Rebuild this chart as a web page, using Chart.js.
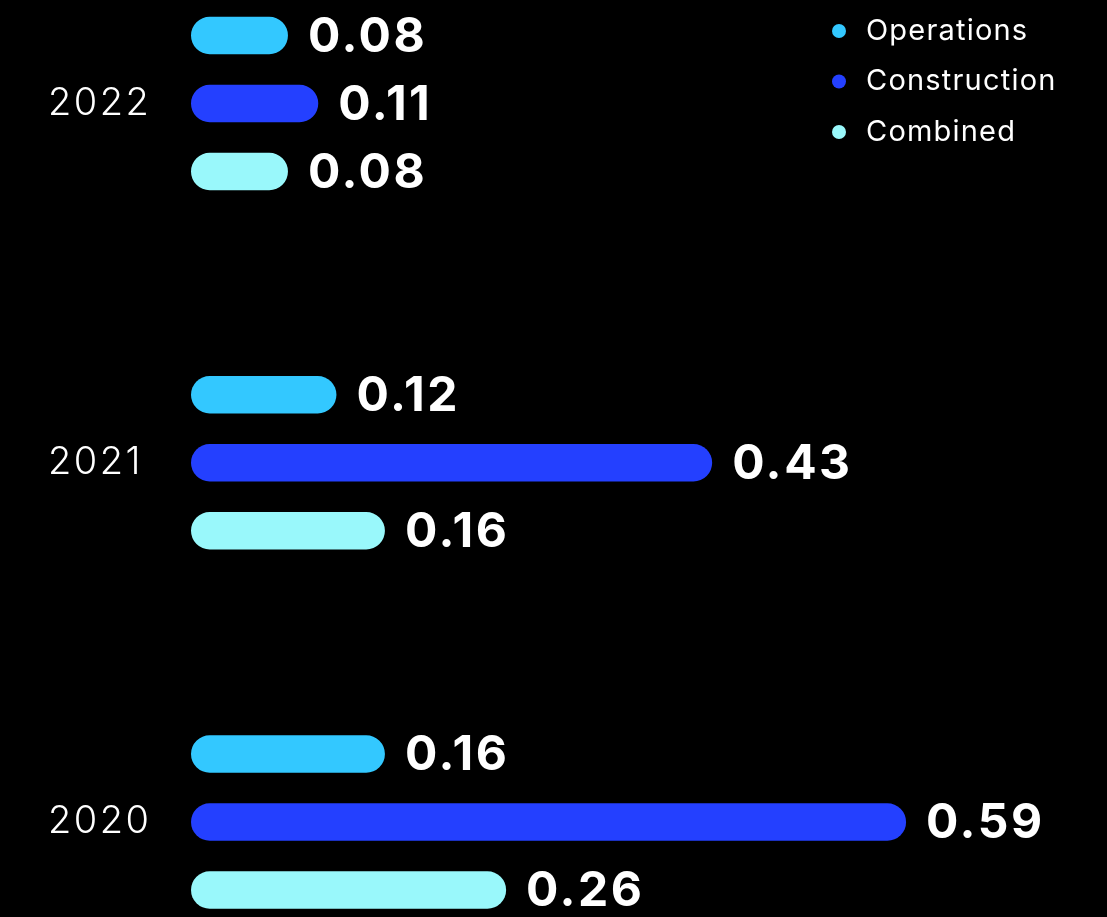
<!DOCTYPE html>
<html>
<head>
<meta charset="utf-8">
<script src="https://cdn.jsdelivr.net/npm/chart.js@4/dist/chart.umd.min.js"></script>
<style>
  html, body { margin: 0; padding: 0; background: #000; overflow: hidden; }
  #wrap { width: 1107px; height: 917px; position: relative; }
</style>
</head>
<body>
<div id="wrap"><canvas id="c"></canvas></div>
<script>
const categories = ['2022', '2021', '2020'];
const seriesNames = ['Operations', 'Construction', 'Combined'];
const operations = [0.08, 0.12, 0.16];
const construction = [0.105, 0.43, 0.59];
const combined = [0.08, 0.16, 0.26];
const seriesColors = ['#33C8FF', '#2440FF', '#99F8FB'];

const FONT = 'Inter, "Noto Sans", sans-serif';

const tickSpacing = {
  id: 'tickSpacing',
  beforeDraw(chart) { chart.ctx.letterSpacing = '2.5px'; },
  afterDatasetsDraw(chart) { chart.ctx.letterSpacing = '0px'; }
};

const valueLabels = {
  id: 'valueLabels',
  afterDatasetsDraw(chart) {
    const ctx = chart.ctx;
    ctx.save();
    ctx.letterSpacing = '2.5px';
    ctx.fillStyle = '#ffffff';
    ctx.font = '700 48px ' + FONT;
    ctx.textAlign = 'left';
    ctx.textBaseline = 'middle';
    chart.data.datasets.forEach((ds, di) => {
      const meta = chart.getDatasetMeta(di);
      meta.data.forEach((bar, i) => {
        const v = ds.data[i];
        const txt = (Math.round(v * 100 + 1e-6) / 100).toFixed(2);
        ctx.fillText(txt, bar.x + 20, bar.y + 2);
      });
    });
    ctx.restore();
  }
};

const cornerLegend = {
  id: 'cornerLegend',
  afterDraw(chart) {
    const ctx = chart.ctx;
    ctx.save();
    ctx.letterSpacing = '1.2px';
    ctx.font = '400 29px ' + FONT;
    ctx.textAlign = 'left';
    ctx.textBaseline = 'middle';
    chart.data.datasets.forEach((ds, i) => {
      const y = 31 + i * 50.5;
      ctx.fillStyle = ds.backgroundColor;
      ctx.beginPath();
      ctx.arc(839, y, 7, 0, Math.PI * 2);
      ctx.fill();
      ctx.fillStyle = '#ffffff';
      ctx.fillText(ds.label, 866, y);
    });
    ctx.restore();
  }
};

const seriesData = [operations, construction, combined];

new Chart(document.getElementById('c'), {
  type: 'bar',
  data: {
    labels: categories,
    datasets: seriesNames.map((name, i) => ({
      label: name,
      data: seriesData[i],
      backgroundColor: seriesColors[i],
      borderWidth: 0,
      borderRadius: 19,
      borderSkipped: false,
      categoryPercentage: 0.568,
      barPercentage: 0.551,
      clip: false
    }))
  },
  options: {
    indexAxis: 'y',
    responsive: true,
    maintainAspectRatio: false,
    animation: false,
    layout: { padding: { left: 48, right: 0, top: 103.5, bottom: 95 } },
    plugins: {
      legend: { display: false },
      tooltip: { enabled: false }
    },
    scales: {
      x: {
        display: false,
        min: 0,
        max: 916 / 1212
      },
      y: {
        offset: false,
        grid: { display: false, drawTicks: false },
        border: { display: false },
        ticks: {
          color: '#ffffff',
          crossAlign: 'far',
          padding: 0,
          font: { family: FONT, size: 38, weight: '300' }
        },
        afterFit(scale) { scale.width = 143; }
      }
    }
  },
  plugins: [tickSpacing, valueLabels, cornerLegend]
});
</script>
</body>
</html>
